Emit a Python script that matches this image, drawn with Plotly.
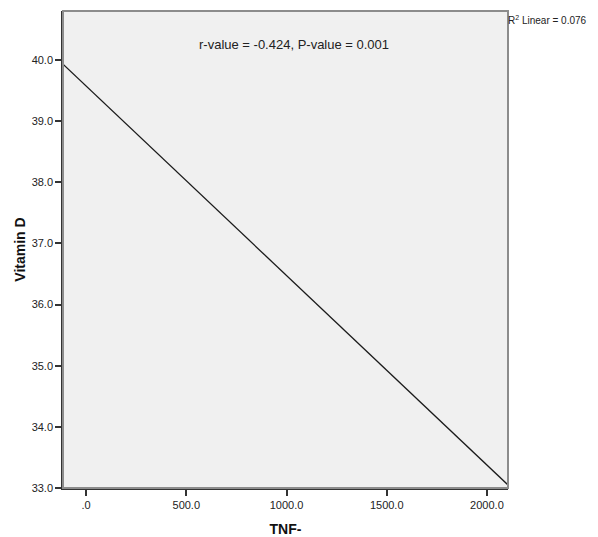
import plotly.graph_objects as go

# Data
fit_x = [-115, 2105]
fit_y = [39.93, 33.05]
x_tick_vals = [0, 500, 1000, 1500, 2000]
x_tick_text = [".0", "500.0", "1000.0", "1500.0", "2000.0"]
y_tick_vals = [33, 34, 35, 36, 37, 38, 39, 40]
y_tick_text = ["33.0", "34.0", "35.0", "36.0", "37.0", "38.0", "39.0", "40.0"]
x_range = [-115, 2105]
y_range = [33.0, 40.8]
stats_text = "r-value = -0.424, P-value = 0.001"
r2_text = "R<sup>2</sup> Linear = 0.076"

FONT = "Liberation Sans, Arial, sans-serif"

fig = go.Figure()
fig.add_trace(go.Scatter(x=fit_x, y=fit_y, mode="lines",
                         line=dict(color="#1a1a1a", width=1.3),
                         showlegend=False, hoverinfo="skip"))

# gray frame (top/right)
fig.add_shape(type="rect", xref="paper", yref="paper", x0=0, y0=0, x1=1, y1=1,
              line=dict(color="#8c8c8c", width=2), fillcolor="rgba(0,0,0,0)", layer="above")

# page body has an 8px margin, so the figure is sized/offset to compensate
fig.update_layout(
    width=590, height=529,
    margin=dict(l=55, r=90, t=3, b=49),
    paper_bgcolor="white", plot_bgcolor="#f0f0f0",
    font=dict(family=FONT, color="#222"),
    xaxis=dict(range=x_range, tickvals=x_tick_vals, ticktext=x_tick_text,
               showgrid=False, zeroline=False, showline=True, linecolor="#333",
               linewidth=1.5, ticks="outside", ticklen=6, tickwidth=1.5, tickcolor="#333",
               tickfont=dict(size=11, family=FONT, color="#222"),
               title=dict(text="<b>TNF-</b>", font=dict(size=14, family=FONT, color="#111"),
                          standoff=14)),
    yaxis=dict(range=y_range, tickvals=y_tick_vals, ticktext=y_tick_text,
               showgrid=False, zeroline=False, showline=True, linecolor="#333",
               linewidth=1.5, ticks="outside", ticklen=6, tickwidth=1.5, tickcolor="#333",
               tickfont=dict(size=11, family=FONT, color="#222"),
               title=dict(text="<b>Vitamin D</b>", font=dict(size=14, family=FONT, color="#111"),
                          standoff=3)),
    annotations=[
        dict(text=stats_text, xref="paper", yref="paper", x=0.519, y=0.929,
             showarrow=False, xanchor="center", yanchor="middle",
             font=dict(size=13, family=FONT, color="#222")),
        dict(text=r2_text, xref="paper", yref="paper", x=1.0, y=0.981,
             showarrow=False, xanchor="left", yanchor="middle", xshift=-2,
             font=dict(size=10, family=FONT, color="#222")),
    ],
)

fig.write_html("out.html")
